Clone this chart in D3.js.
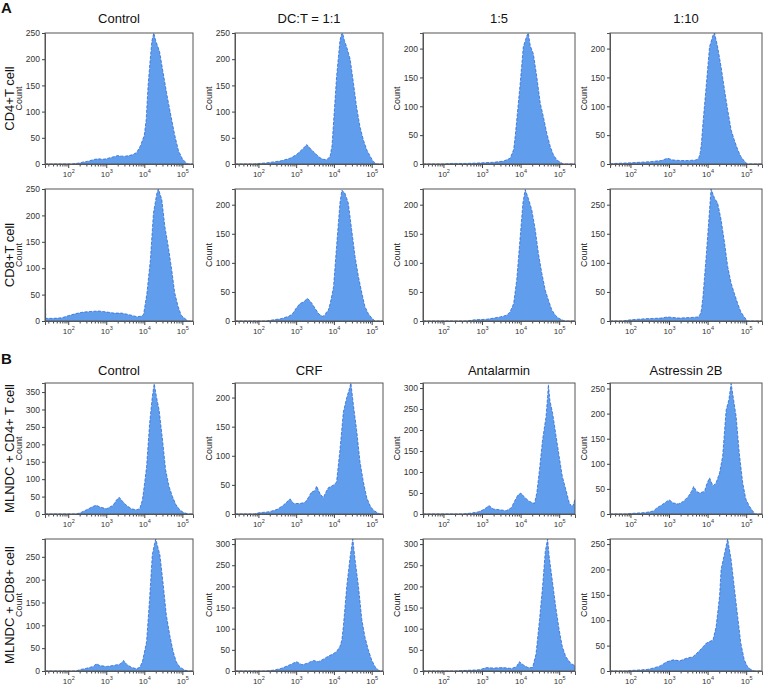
<!DOCTYPE html>
<html><head><meta charset="utf-8">
<script src="https://cdn.jsdelivr.net/npm/d3@7"></script>
<style>body{margin:0;background:#fff} text{font-family:"Liberation Sans",Arial,sans-serif}</style>
</head><body><svg id="c" width="763" height="685"></svg>
<script>
// ---- Data: [log10 fluorescence intensity, count] ----
const cd4Control = [[1.39,0],[2.1,0],[2.2,1],[2.3,2],[2.4,4],[2.5,5],[2.6,7],[2.7,9],[2.8,10],[2.9,9],[3.0,10],[3.1,12],[3.2,14],[3.3,16],[3.4,15],[3.5,15],[3.6,16],[3.7,18],[3.8,22],[3.9,35],[3.95,45],[4.0,55],[4.05,85],[4.1,150],[4.15,195],[4.2,235],[4.25,250],[4.3,235],[4.35,225],[4.4,215],[4.5,172],[4.6,130],[4.7,92],[4.8,55],[4.9,25],[5.0,10],[5.1,2],[5.15,0],[5.28,0]];
const cd4Ratio11 = [[1.38,0],[1.9,0],[2.0,1],[2.2,2],[2.4,4],[2.6,6],[2.84,11],[3.01,18],[3.1,24],[3.19,30],[3.28,37],[3.37,30],[3.45,24],[3.54,18],[3.63,12],[3.72,9],[3.81,8],[3.9,15],[3.95,35],[4.0,90],[4.07,166],[4.12,205],[4.16,235],[4.2,248],[4.23,250],[4.28,235],[4.34,223],[4.43,200],[4.52,153],[4.6,109],[4.69,71],[4.78,46],[4.87,27],[4.96,15],[5.04,5],[5.13,0],[5.3,0]];
const cd4Ratio15 = [[1.47,0],[2.0,0],[2.2,1],[2.6,1],[3.0,2],[3.3,3],[3.56,5],[3.73,10],[3.82,25],[3.86,48],[3.9,76],[3.99,140],[4.07,203],[4.16,222],[4.2,227],[4.25,205],[4.33,191],[4.42,151],[4.51,105],[4.59,82],[4.68,53],[4.77,30],[4.85,16],[4.94,7],[5.03,3],[5.11,0],[5.41,0]];
const cd4Ratio110 = [[1.47,0],[1.6,1],[2.0,2],[2.5,4],[2.8,6],[2.96,10],[3.1,7],[3.3,6],[3.5,6],[3.7,7],[3.77,10],[3.81,20],[3.84,36],[3.88,71],[3.97,140],[4.05,203],[4.14,223],[4.18,227],[4.26,203],[4.35,168],[4.44,128],[4.52,94],[4.61,59],[4.69,42],[4.78,25],[4.86,13],[4.95,5],[5.03,0],[5.41,0]];
const cd8Control = [[1.39,75],[1.41,5],[1.6,5],[1.83,6],[2.0,10],[2.2,14],[2.4,17],[2.6,18],[2.79,19],[3.02,17],[3.2,15],[3.4,15],[3.6,12],[3.81,8],[3.91,9],[3.98,12],[4.07,53],[4.16,116],[4.24,204],[4.33,242],[4.37,250],[4.46,230],[4.54,179],[4.63,141],[4.72,97],[4.8,53],[4.89,27],[4.97,11],[5.06,5],[5.15,0],[5.28,0]];
const cd8Ratio11 = [[1.38,0],[2.2,0],[2.4,2],[2.6,4],[2.8,8],[2.9,12],[3.0,22],[3.1,30],[3.2,33],[3.3,39],[3.4,32],[3.5,22],[3.6,12],[3.7,8],[3.76,10],[3.8,15],[3.85,18],[3.9,30],[3.95,45],[3.99,59],[4.07,128],[4.16,203],[4.21,225],[4.29,220],[4.38,203],[4.47,157],[4.56,111],[4.65,76],[4.74,48],[4.82,25],[4.91,13],[5.0,5],[5.09,0],[5.3,0]];
const cd8Ratio15 = [[1.47,0],[2.6,0],[2.8,2],[3.12,3],[3.3,5],[3.47,7],[3.64,10],[3.73,16],[3.82,30],[3.9,71],[3.99,145],[4.06,203],[4.12,226],[4.2,211],[4.29,191],[4.38,157],[4.46,117],[4.55,82],[4.64,53],[4.72,36],[4.81,19],[4.9,10],[4.98,5],[5.07,2],[5.15,0],[5.41,0]];
const cd8Ratio110 = [[1.47,0],[1.8,0],[2.0,2],[2.4,4],[2.79,5],[2.96,7],[3.26,5],[3.56,6],[3.76,7],[3.81,12],[3.84,19],[3.88,42],[3.97,117],[4.05,191],[4.09,227],[4.18,211],[4.26,203],[4.35,174],[4.44,134],[4.52,94],[4.61,65],[4.69,48],[4.78,30],[4.86,16],[4.95,7],[5.03,0],[5.41,0]];
const mlndcCd4Control = [[1.39,0],[2.2,0],[2.31,3],[2.48,12],[2.66,22],[2.74,25],[2.83,20],[3.01,15],[3.18,25],[3.27,40],[3.34,48],[3.44,35],[3.53,25],[3.66,15],[3.79,12],[3.88,15],[3.95,40],[4.01,90],[4.06,136],[4.14,260],[4.21,336],[4.26,374],[4.32,336],[4.39,298],[4.48,212],[4.56,127],[4.65,79],[4.74,50],[4.83,27],[4.93,12],[5.02,5],[5.15,0],[5.28,0]];
const mlndcCd4Crf = [[1.38,0],[1.9,0],[2.0,2],[2.3,4],[2.5,8],[2.66,15],[2.84,26],[2.93,18],[3.1,18],[3.24,20],[3.32,28],[3.41,38],[3.5,40],[3.54,48],[3.63,35],[3.72,28],[3.79,38],[3.85,45],[3.94,48],[4.0,50],[4.07,55],[4.16,110],[4.25,175],[4.34,200],[4.41,215],[4.45,225],[4.52,185],[4.6,145],[4.69,90],[4.78,55],[4.87,28],[4.96,14],[5.04,7],[5.13,3],[5.22,0],[5.3,0]];
const mlndcCd4Antalarmin = [[1.47,0],[2.5,0],[2.7,2],[2.9,5],[3.03,10],[3.11,15],[3.18,20],[3.29,12],[3.46,10],[3.63,8],[3.76,15],[3.84,30],[3.93,45],[4.01,50],[4.1,40],[4.23,30],[4.36,25],[4.42,50],[4.49,106],[4.57,177],[4.66,232],[4.7,280],[4.72,308],[4.76,270],[4.83,240],[4.91,191],[5.0,137],[5.08,90],[5.17,59],[5.26,27],[5.34,16],[5.38,26],[5.41,35]];
const mlndcCd4Astressin = [[1.47,0],[1.9,0],[2.0,1],[2.4,3],[2.6,6],[2.68,12],[2.81,18],[2.94,25],[3.01,28],[3.11,22],[3.24,20],[3.37,25],[3.5,35],[3.58,45],[3.64,55],[3.71,45],[3.79,42],[3.92,45],[3.98,60],[4.05,72],[4.14,56],[4.22,62],[4.31,82],[4.39,115],[4.48,207],[4.55,227],[4.61,260],[4.74,194],[4.82,122],[4.91,62],[4.99,30],[5.08,16],[5.16,7],[5.23,0],[5.41,0]];
const mlndcCd8Control = [[1.39,0],[2.2,0],[2.31,3],[2.48,6],[2.66,10],[2.74,16],[2.83,12],[3.01,10],[3.18,12],[3.36,15],[3.46,23],[3.53,15],[3.66,8],[3.79,5],[3.88,8],[3.95,20],[4.06,64],[4.14,159],[4.21,254],[4.27,279],[4.3,289],[4.41,254],[4.49,195],[4.58,122],[4.67,78],[4.76,42],[4.84,20],[4.93,9],[5.06,2],[5.15,0],[5.28,0]];
const mlndcCd8Crf = [[1.38,0],[2.2,0],[2.4,2],[2.6,6],[2.66,8],[2.84,15],[3.01,22],[3.15,15],[3.28,18],[3.46,25],[3.59,22],[3.72,28],[3.85,35],[3.97,40],[4.07,46],[4.16,58],[4.21,73],[4.25,105],[4.34,200],[4.43,270],[4.5,312],[4.56,263],[4.65,200],[4.74,121],[4.82,81],[4.91,50],[5.0,26],[5.09,10],[5.18,2],[5.25,0],[5.3,0]];
const mlndcCd8Antalarmin = [[1.47,0],[2.3,0],[2.5,1],[2.94,3],[3.11,8],[3.29,7],[3.54,8],[3.76,6],[3.89,10],[3.97,22],[4.06,15],[4.19,8],[4.31,8],[4.4,40],[4.49,121],[4.57,200],[4.64,283],[4.7,312],[4.74,271],[4.83,208],[4.91,152],[5.0,97],[5.08,58],[5.17,34],[5.3,18],[5.38,14],[5.41,12]];
const mlndcCd8Astressin = [[1.47,0],[1.9,0],[2.0,1],[2.43,3],[2.6,6],[2.77,10],[2.94,18],[3.11,22],[3.28,20],[3.45,25],[3.62,28],[3.79,40],[3.97,55],[4.05,58],[4.14,61],[4.22,87],[4.31,147],[4.35,200],[4.44,232],[4.52,260],[4.61,219],[4.69,166],[4.78,107],[4.86,55],[4.95,22],[5.03,9],[5.12,3],[5.21,0],[5.41,0]];

const seriesByPanel = [cd4Control, cd4Ratio11, cd4Ratio15, cd4Ratio110,
  cd8Control, cd8Ratio11, cd8Ratio15, cd8Ratio110,
  mlndcCd4Control, mlndcCd4Crf, mlndcCd4Antalarmin, mlndcCd4Astressin,
  mlndcCd8Control, mlndcCd8Crf, mlndcCd8Antalarmin, mlndcCd8Astressin];

const titlesA = ["Control", "DC:T = 1:1", "1:5", "1:10"];
const titlesB = ["Control", "CRF", "Antalarmin", "Astressin 2B"];
const rowLabels = ["CD4+T cell", "CD8+T cell", "MLNDC + CD4+ T cell", "MLNDC + CD8+ cell"];
const yAxisLabel = "Count";
const yMax = [250,250,227,227, 250,227,227,227, 376,225,312,261, 289,312,312,260];
const yTickMax = [250,250,200,200, 250,200,200,200, 350,200,300,250, 250,300,300,250];
const yTickLabelsR2C4 = ["0","50","100","150","250"];
const xMajorTicks = [1e2, 1e3, 1e4, 1e5];
const xDomainExp = [[1.39,5.28],[1.38,5.30],[1.47,5.41],[1.47,5.41]];

// ---- Layout ----
const colLeft = [45,235,423,610], colRight = [193,383,575,762];
const rowTop = [33,189,383,539], rowBottom = [164,321,514,671];
const FILL = "#609ded", STROKE = "#2e6bd6", FRAME = "#555";

const svg = d3.select("#c");
svg.append("text").attr("x",1).attr("y",13).attr("font-size",15).attr("font-weight","bold").attr("fill","#111").text("A");
svg.append("text").attr("x",1).attr("y",364).attr("font-size",15).attr("font-weight","bold").attr("fill","#111").text("B");

const titleY = [23, 375];
for (let c = 0; c < 4; c++) {
  const cx = (colLeft[c] + colRight[c]) / 2;
  svg.append("text").attr("x",cx).attr("y",titleY[0]).attr("text-anchor","middle").attr("font-size",13).attr("fill","#111").text(titlesA[c]);
  svg.append("text").attr("x",cx).attr("y",titleY[1]).attr("text-anchor","middle").attr("font-size",13).attr("fill","#111").text(titlesB[c]);
}
for (let r = 0; r < 4; r++) {
  const cy = (rowTop[r] + rowBottom[r]) / 2;
  svg.append("text").attr("transform",`translate(14,${cy}) rotate(-90)`).attr("text-anchor","middle").attr("font-size",13).attr("fill","#111").text(rowLabels[r]);
}

seriesByPanel.forEach((data, i) => {
  const r = Math.floor(i / 4), c = i % 4;
  const L = colLeft[c], R = colRight[c], T = rowTop[r], B = rowBottom[r];
  const x = d3.scaleLog().domain([10 ** xDomainExp[c][0], 10 ** xDomainExp[c][1]]).range([L, R]);
  const y = d3.scaleLinear().domain([0, yMax[i]]).range([B, T]);
  const g = svg.append("g");
  const clipId = "clip" + i;
  g.append("clipPath").attr("id", clipId).append("rect").attr("x",L).attr("y",T).attr("width",R-L).attr("height",B-T);
  const area = d3.area().x(d => x(10 ** d[0])).y0(y(0)).y1(d => y(d[1]));
  const line = d3.line().x(d => x(10 ** d[0])).y(d => y(d[1]));
  g.append("path").datum(data).attr("clip-path",`url(#${clipId})`).attr("d", area).attr("fill", FILL);
  g.append("path").datum(data).attr("clip-path",`url(#${clipId})`).attr("d", line).attr("fill","none").attr("stroke", STROKE).attr("stroke-width",0.8).attr("stroke-dasharray","3,1.5");
  g.append("rect").attr("x",L).attr("y",T).attr("width",R-L).attr("height",B-T).attr("fill","none").attr("stroke",FRAME).attr("stroke-width",1);

  // y axis
  const yt = d3.range(0, yTickMax[i] + 1, 50);
  const yAx = d3.axisLeft(y).tickValues(yt).tickSize(3).tickPadding(2)
    .tickFormat((d, j) => (i === 7 ? yTickLabelsR2C4[j] : String(d)));
  const ya = g.append("g").attr("transform",`translate(${L},0)`).call(yAx);
  ya.select(".domain").attr("stroke",FRAME);
  ya.selectAll(".tick line").attr("stroke","#444");
  ya.selectAll("text").attr("font-size",8.5).attr("fill","#333").attr("font-family","Liberation Sans, Arial, sans-serif");

  // x axis minor ticks
  const minor = [];
  for (let p = 1; p <= 5; p++) for (let k = 2; k <= 9; k++) {
    const v = k * 10 ** p;
    if (v >= x.domain()[0] && v <= x.domain()[1]) minor.push(v);
  }
  const xMinor = d3.axisBottom(x).tickValues(minor).tickSize(2.5).tickFormat("");
  const xm = g.append("g").attr("transform",`translate(0,${B})`).call(xMinor);
  xm.select(".domain").remove();
  xm.selectAll(".tick line").attr("stroke","#444");
  const xAx = d3.axisBottom(x).tickValues(xMajorTicks).tickSize(4).tickPadding(3).tickFormat(d => "10");
  const xa = g.append("g").attr("transform",`translate(0,${B})`).call(xAx);
  xa.select(".domain").attr("stroke",FRAME);
  xa.selectAll(".tick line").attr("stroke","#444");
  xa.selectAll(".tick text").each(function(d) {
    const t = d3.select(this);
    t.text(null).attr("font-size",8).attr("fill","#333").attr("font-family","Liberation Sans, Arial, sans-serif");
    t.append("tspan").text("10");
    t.append("tspan").attr("font-size",5.5).attr("dy",-3.5).text(String(Math.round(Math.log10(d))));
  });

  // Count label
  g.append("text").attr("transform",`translate(${L-23},${(T+B)/2}) rotate(-90)`).attr("text-anchor","middle")
    .attr("font-size",9).attr("fill","#222").text(yAxisLabel);
});
</script></body></html>
